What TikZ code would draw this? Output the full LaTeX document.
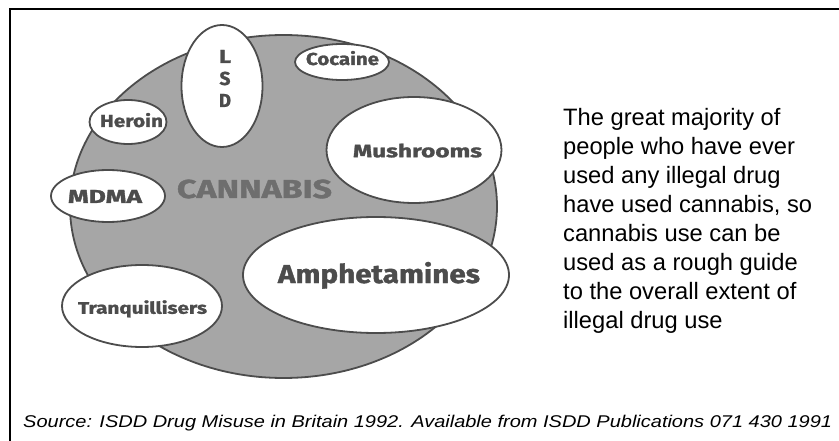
\documentclass[tikz,border=0pt]{standalone}
\usepackage{fontspec}
\setmainfont{Liberation Sans}
\newfontfamily\labelfont[BoldFeatures={FakeBold=1.3}]{Fira Sans}
\usetikzlibrary{shapes.geometric}
\definecolor{inkgray}{HTML}{4C4C4C}
\definecolor{fillgray}{HTML}{A6A6A6}
\definecolor{cangray}{HTML}{6E6E6E}
% width, cap height, text
\newcommand{\fitwh}[3]{\resizebox{#1}{#2}{\rule{0pt}{\fontcharht\font`H}\smash{#3}}}
\tikzset{
  drug/.style={ellipse, draw=inkgray, line width=1.8pt, fill=white, inner sep=0pt},
  lbl/.style={text=inkgray, inner sep=0pt, font=\labelfont\bfseries},
}
\begin{document}
\begin{tikzpicture}[x=1pt,y=-1pt]
\useasboundingbox (0,0) rectangle (839,441);
% frame
\draw[line width=2.4pt] (10,441) coordinate (fb) -- (10,9) coordinate (fc) -- (839,9) coordinate (fr);
% cannabis
\node[ellipse, draw=inkgray, line width=1.8pt, fill=fillgray, minimum width=427pt, minimum height=343pt, inner sep=0pt] (can) at (283.5,206.5) {};
\node[lbl, text=cangray] (cantext) at (254.5,189) {\fitwh{155pt}{18pt}{CANNABIS}};
% drugs
\node[drug, minimum width=81pt, minimum height=122pt] (lsd) at (222,86) {};
\node[lbl, font=\labelfont\bfseries\fontsize{10}{22}\selectfont, align=center] (lsdt) at (225,78.5) {\fitwh{12pt}{13pt}{L}\\\fitwh{11pt}{13pt}{S}\\\fitwh{12pt}{13pt}{D}};
\node[drug, minimum width=94pt, minimum height=36pt] (coc) at (342,62) {};
\node[lbl] (coct) at (342.5,59) {\fitwh{73pt}{12pt}{Cocaine}};
\node[drug, minimum width=77pt, minimum height=44pt] (her) at (128,122) {};
\node[lbl] (hert) at (131.5,121) {\fitwh{63pt}{12pt}{Heroin}};
\node[drug, minimum width=175pt, minimum height=106pt] (mus) at (414,150) {};
\node[lbl] (must) at (417.5,151) {\fitwh{129pt}{12.5pt}{Mushrooms}};
\node[drug, minimum width=114pt, minimum height=52pt] (mdma) at (108,196) {};
\node[lbl] (mdmat) at (105,196.5) {\fitwh{74pt}{13pt}{MDMA}};
\node[drug, minimum width=266pt, minimum height=116pt] (amp) at (376,275) {};
\node[lbl] (ampt) at (379,274) {\fitwh{202pt}{18pt}{Amphetamines}};
\node[drug, minimum width=160pt, minimum height=82pt] (tra) at (142,306) {};
\node[lbl] (trat) at (142.5,308) {\fitwh{129pt}{11.5pt}{Tranquillisers}};
% side text
\node[anchor=north west, align=left, inner sep=0pt, font=\fontsize{23.7}{29}\selectfont] (side) at (563,108) {The great majority of\\people who have ever\\used any illegal drug\\have used cannabis, so\\cannabis use can be\\used as a rough guide\\to the overall extent of\\illegal drug use};
% source
\node[anchor=base west, inner sep=0pt, font=\itshape\fontsize{17}{20}\selectfont] (src) at (23,427) {\scalebox{1.176}[1]{Source: ISDD Drug Misuse in Britain 1992. Available from ISDD Publications 071 430 1991}};
\end{tikzpicture}
\end{document}
